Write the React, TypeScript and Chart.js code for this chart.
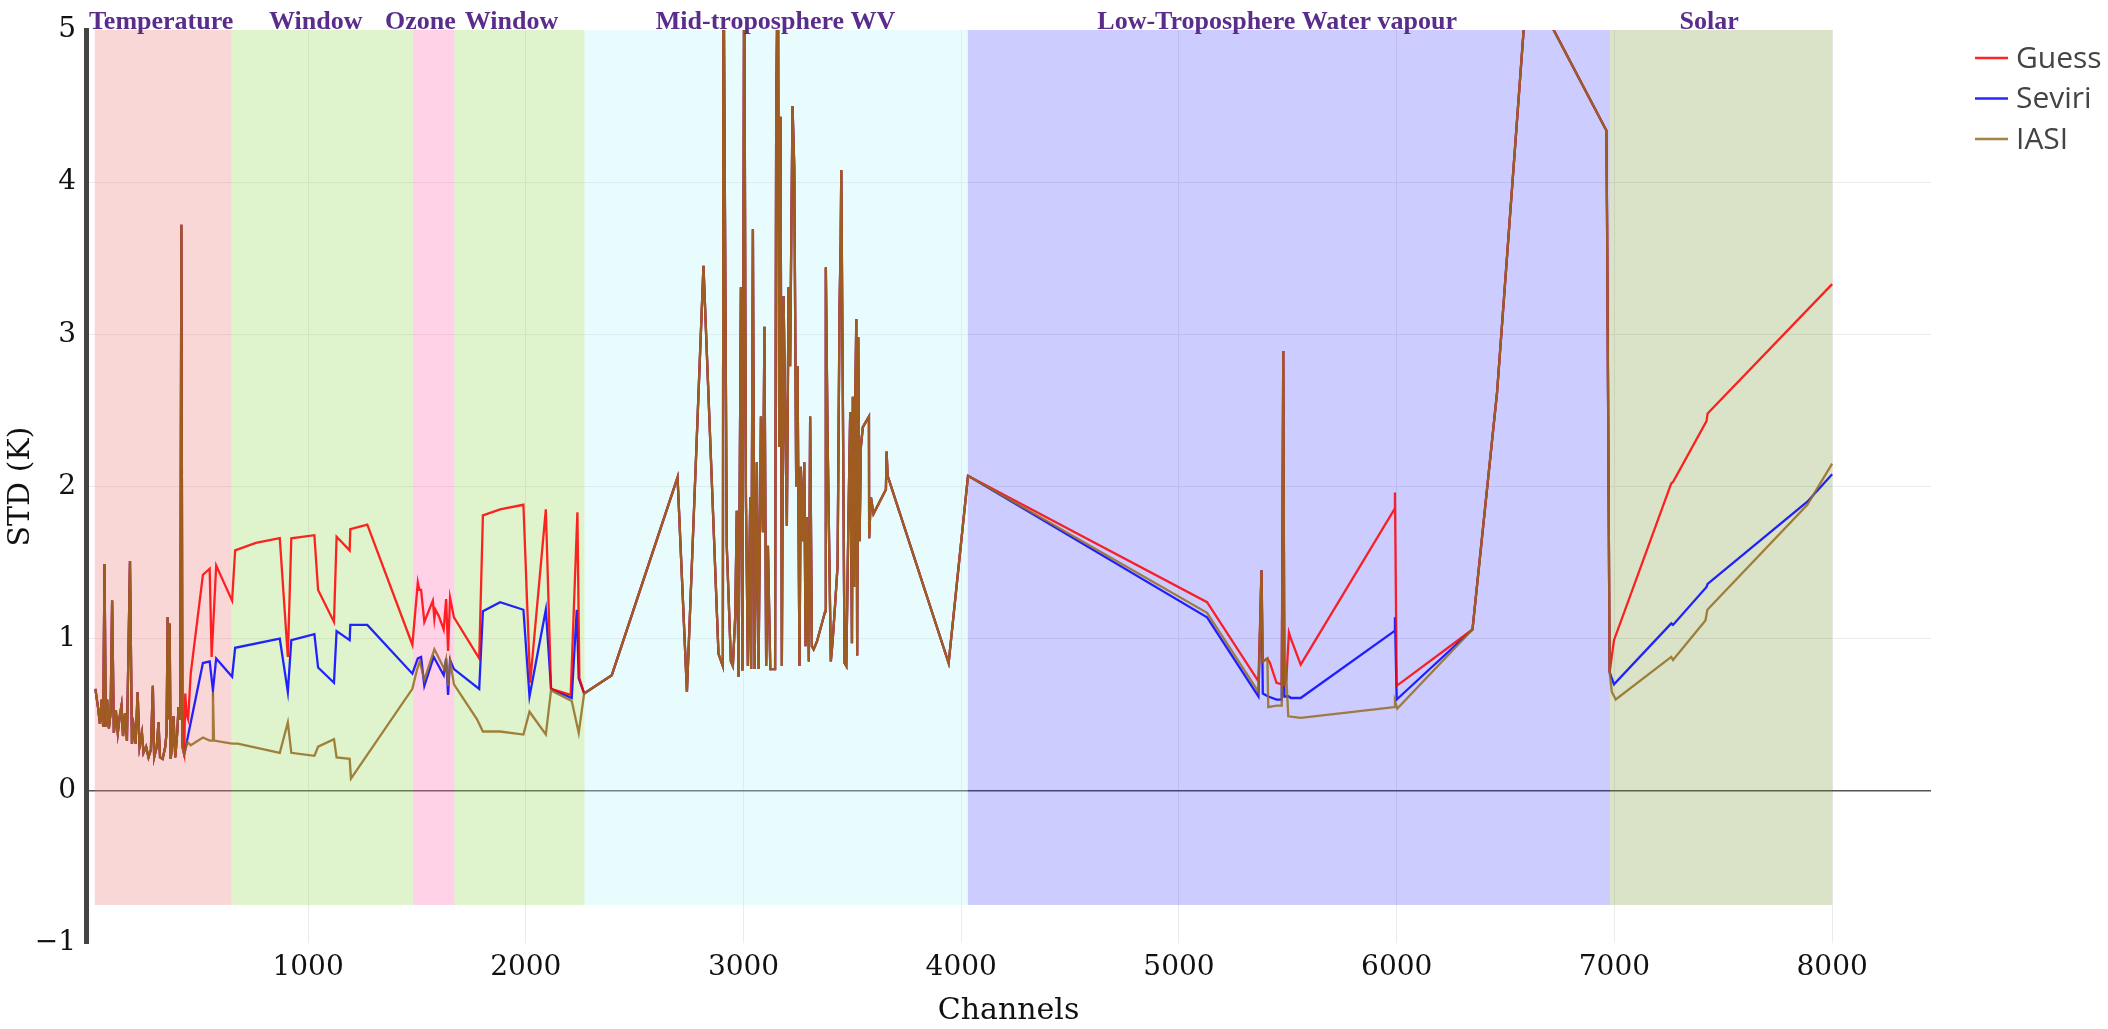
import React, { useEffect, useRef } from 'react';
import { Chart, registerables } from 'chart.js';

Chart.register(...registerables);

// ---------- Regions (shaded bands) ----------
const regionNames = ['Temperature', 'Window', 'Ozone', 'Window', 'Mid-troposphere WV', 'Low-Troposphere Water vapour', 'Solar'];
const regionStart = [20, 648, 1482, 1672, 2270, 4030, 6980];
const regionEnd = [648, 1482, 1672, 2270, 4030, 6980, 8000];
const regionLabelAt = [325, 1035, 1516, 1934, 3147, 5451, 7435];
const regionColors = [
  'rgba(238,122,122,0.3)',
  'rgba(148,215,88,0.3)',
  'rgba(255,105,180,0.3)',
  'rgba(148,215,88,0.3)',
  'rgba(178,245,252,0.3)',
  'rgba(0,0,255,0.2)',
  'rgba(107,142,35,0.25)',
];

// ---------- Axis ticks ----------
const xTicks = [1000, 2000, 3000, 4000, 5000, 6000, 7000, 8000];

// ---------- Series ----------
const seriesNames = ['Guess', 'Seviri', 'IASI'];
const seriesColors = ['rgba(255,0,0,0.85)', 'rgba(0,0,255,0.85)', 'rgba(148,108,32,0.85)'];

// common part (temperature channels)
const tempCh = [23, 35, 44, 52, 59, 65, 71, 77, 85, 93, 100, 108, 117, 126, 135, 143, 150, 159, 168, 182, 191, 199, 208, 217, 226, 237, 244, 256, 267, 278, 287, 293, 305, 313, 320, 332, 344, 350, 355, 360, 364, 369, 378, 382, 390, 399, 405, 413, 418, 423, 431];
const tempVal = [0.67, 0.55, 0.44, 0.60, 0.42, 1.49, 0.42, 0.60, 0.41, 0.51, 1.25, 0.38, 0.53, 0.38, 0.49, 0.56, 0.36, 0.51, 0.33, 1.51, 0.31, 0.42, 0.31, 0.65, 0.29, 0.38, 0.25, 0.29, 0.22, 0.27, 0.69, 0.22, 0.29, 0.45, 0.22, 0.21, 0.29, 0.38, 1.14, 0.47, 1.10, 0.21, 0.33, 0.49, 0.22, 0.38, 0.55, 0.47, 3.72, 0.29, 0.24];

// window / ozone channels
const guessWinCh = [436, 442, 449, 461, 517, 548, 557, 578, 651, 665, 760, 870, 907, 923, 1029, 1046, 1119, 1131, 1191, 1194, 1272, 1479, 1504, 1511, 1519, 1534, 1573, 1580, 1585, 1600, 1623, 1634, 1643, 1652, 1670, 1786, 1803, 1882, 1989, 2020, 2092, 2116, 2206, 2237, 2246];
const guessWinVal = [0.64, 0.50, 0.47, 0.77, 1.42, 1.46, 0.88, 1.48, 1.25, 1.58, 1.63, 1.66, 0.88, 1.66, 1.68, 1.32, 1.11, 1.67, 1.58, 1.72, 1.75, 0.96, 1.37, 1.32, 1.32, 1.11, 1.25, 1.13, 1.19, 1.15, 1.06, 1.26, 0.92, 1.27, 1.14, 0.87, 1.81, 1.85, 1.88, 0.71, 1.85, 0.67, 0.63, 1.83, 0.74];

const seviriWinCh = [440, 454, 517, 548, 563, 578, 651, 665, 870, 907, 923, 1029, 1046, 1119, 1131, 1191, 1194, 1272, 1479, 1504, 1519, 1534, 1577, 1623, 1634, 1643, 1652, 1670, 1786, 1803, 1882, 1989, 2017, 2092, 2116, 2211, 2234, 2243];
const seviriWinVal = [0.30, 0.40, 0.84, 0.85, 0.66, 0.87, 0.75, 0.94, 1.00, 0.65, 0.99, 1.03, 0.81, 0.71, 1.05, 0.99, 1.09, 1.09, 0.77, 0.87, 0.88, 0.69, 0.88, 0.76, 0.87, 0.63, 0.86, 0.80, 0.67, 1.18, 1.24, 1.19, 0.62, 1.19, 0.67, 0.61, 1.19, 0.74];

const iasiWinCh = [446, 461, 517, 548, 560, 563, 568, 651, 677, 870, 907, 923, 1029, 1046, 1119, 1131, 1191, 1197, 1479, 1501, 1513, 1534, 1580, 1626, 1634, 1643, 1653, 1670, 1776, 1803, 1882, 1989, 2017, 2092, 2116, 2211, 2243];
const iasiWinVal = [0.32, 0.30, 0.35, 0.33, 0.33, 0.65, 0.33, 0.31, 0.31, 0.25, 0.45, 0.25, 0.23, 0.29, 0.34, 0.22, 0.21, 0.08, 0.67, 0.80, 0.85, 0.73, 0.93, 0.80, 0.86, 0.69, 0.85, 0.70, 0.47, 0.39, 0.39, 0.37, 0.52, 0.37, 0.66, 0.59, 0.38];

// common part (mid-troposphere water vapour)
const midCh = [2268, 2395, 2697, 2740, 2816, 2885, 2905, 2908, 2923, 2942, 2951, 2962, 2969, 2977, 2988, 2995, 3003, 3011, 3020, 3031, 3035, 3043, 3051, 3061, 3069, 3080, 3089, 3096, 3104, 3112, 3123, 3133, 3145, 3150, 3158, 3164, 3170, 3176, 3184, 3191, 3199, 3207, 3214, 3225, 3233, 3242, 3248, 3257, 3263, 3271, 3279, 3285, 3291, 3300, 3306, 3314, 3322, 3337, 3375, 3378, 3386, 3401, 3409, 3420, 3432, 3441, 3446, 3449, 3456, 3464, 3472, 3482, 3490, 3498, 3502, 3508, 3513, 3518, 3522, 3527, 3533, 3539, 3548, 3564, 3576, 3577, 3585, 3597, 3654, 3657, 3662, 3942, 4031];
const midVal = [0.64, 0.76, 2.06, 0.65, 3.45, 0.90, 0.82, 5.6, 1.61, 0.85, 0.82, 1.15, 1.84, 0.75, 3.31, 0.79, 5.6, 1.93, 0.82, 1.93, 0.80, 3.69, 0.80, 2.16, 0.80, 2.46, 1.70, 3.05, 0.82, 1.61, 0.80, 0.80, 0.80, 4.49, 5.6, 2.26, 4.43, 0.82, 3.25, 2.52, 1.74, 3.31, 2.79, 4.50, 4.10, 2.00, 2.79, 0.82, 2.13, 1.64, 2.16, 0.95, 1.80, 0.85, 2.46, 0.95, 0.93, 0.98, 1.18, 3.44, 2.33, 0.85, 0.98, 1.21, 1.48, 3.18, 3.59, 4.08, 2.62, 0.84, 0.82, 1.80, 2.49, 0.97, 2.59, 1.34, 2.56, 3.10, 0.89, 2.98, 1.64, 2.26, 2.39, 2.43, 2.46, 1.66, 1.93, 1.82, 1.98, 2.23, 2.07, 0.84, 2.07];

// low-troposphere water vapour
const guessLowCh = [5129, 5365, 5379, 5385, 5406, 5418, 5448, 5472, 5479, 5484, 5493, 5505, 5514, 5559, 5989, 5992, 6000];
const guessLowVal = [1.24, 0.72, 1.45, 0.85, 0.87, 0.84, 0.71, 0.70, 2.89, 0.70, 0.73, 1.04, 1.00, 0.83, 1.85, 1.96, 0.69];
const seviriLowCh = [5129, 5365, 5379, 5385, 5410, 5448, 5472, 5479, 5484, 5505, 5514, 5559, 5989, 5992, 6000];
const seviriLowVal = [1.14, 0.62, 1.45, 0.64, 0.62, 0.60, 0.60, 2.89, 0.62, 0.62, 0.61, 0.61, 1.05, 1.14, 0.60];
const iasiLowCh = [5129, 5365, 5379, 5385, 5406, 5410, 5448, 5472, 5479, 5484, 5490, 5502, 5559, 5989, 5992, 6003];
const iasiLowVal = [1.17, 0.65, 1.45, 0.85, 0.87, 0.55, 0.56, 0.56, 2.89, 0.69, 0.84, 0.49, 0.48, 0.55, 0.59, 0.54];

// common tail
const tailCh = [6348, 6461, 6600, 6963, 6966, 6978];
const tailVal = [1.06, 2.62, 5.33, 4.34, 3.78, 0.78];

// solar
const guessSolarCh = [6998, 7261, 7269, 7423, 7428, 8000];
const guessSolarVal = [0.99, 2.02, 2.03, 2.43, 2.48, 3.33];
const seviriSolarCh = [6998, 7261, 7269, 7423, 7428, 7886, 8000];
const seviriSolarVal = [0.70, 1.10, 1.09, 1.34, 1.36, 1.90, 2.08];
const iasiSolarCh = [6988, 7006, 7261, 7269, 7418, 7427, 7886, 8000];
const iasiSolarVal = [0.65, 0.60, 0.88, 0.86, 1.12, 1.19, 1.88, 2.15];

const pts = (xs: number[], ys: number[]) => xs.map((x, i) => ({ x, y: ys[i] }));

const guessData = [
  ...pts(tempCh, tempVal), ...pts(guessWinCh, guessWinVal), ...pts(midCh, midVal),
  ...pts(guessLowCh, guessLowVal), ...pts(tailCh, tailVal), ...pts(guessSolarCh, guessSolarVal),
];
const seviriData = [
  ...pts(tempCh, tempVal), ...pts(seviriWinCh, seviriWinVal), ...pts(midCh, midVal),
  ...pts(seviriLowCh, seviriLowVal), ...pts(tailCh, tailVal), ...pts(seviriSolarCh, seviriSolarVal),
];
const iasiData = [
  ...pts(tempCh, tempVal), ...pts(iasiWinCh, iasiWinVal), ...pts(midCh, midVal),
  ...pts(iasiLowCh, iasiLowVal), ...pts(tailCh, tailVal), ...pts(iasiSolarCh, iasiSolarVal),
];

const W = 2108;
const H = 1029;

const bandsPlugin = {
  id: 'bands',
  beforeDatasetsDraw(chart: any) {
    const { ctx, chartArea, scales } = chart;
    const xs = scales.x;
    const ys = scales.y;
    ctx.save();
    const top = ys.getPixelForValue(5);
    const bottom = ys.getPixelForValue(-0.75);
    regionStart.forEach((s, i) => {
      const x0 = Math.max(xs.getPixelForValue(s), chartArea.left);
      const x1 = xs.getPixelForValue(regionEnd[i]);
      ctx.fillStyle = regionColors[i];
      ctx.fillRect(x0, top, x1 - x0, bottom - top);
    });
    ctx.restore();
  },
};

const labelsPlugin = {
  id: 'regionLabels',
  afterDraw(chart: any) {
    const { ctx, scales } = chart;
    ctx.save();
    ctx.font = 'bold 26px "Liberation Serif", "Times New Roman", serif';
    ctx.fillStyle = '#5a2d8c';
    ctx.textAlign = 'center';
    ctx.textBaseline = 'alphabetic';
    regionNames.forEach((name, i) => {
      ctx.fillText(name, scales.x.getPixelForValue(regionLabelAt[i]), 29);
    });
    ctx.restore();
  },
};

const legendPlugin = {
  id: 'customLegend',
  afterDraw(chart: any) {
    const { ctx } = chart;
    ctx.save();
    ctx.font = '30px "Open Sans", sans-serif';
    ctx.textBaseline = 'middle';
    ctx.textAlign = 'left';
    seriesNames.forEach((name, i) => {
      const y = 58 + i * 40.5;
      ctx.strokeStyle = seriesColors[i];
      ctx.lineWidth = 2.5;
      ctx.beginPath();
      ctx.moveTo(1975, y);
      ctx.lineTo(2008, y);
      ctx.stroke();
      ctx.fillStyle = '#444';
      ctx.fillText(name, 2016, y + 1);
    });
    ctx.restore();
  },
};

// draw order: Seviri at the bottom, Guess above it, IASI on top
const drawOrder = [2, 3, 1];

export default function App() {
  const ref = useRef<HTMLCanvasElement | null>(null);

  useEffect(() => {
    if (!ref.current) return;
    const datasets = [guessData, seviriData, iasiData].map((data, i) => ({
      label: seriesNames[i],
      data,
      borderColor: seriesColors[i],
      backgroundColor: seriesColors[i],
      borderWidth: 2.3,
      pointRadius: 0,
      tension: 0,
      fill: false,
      order: drawOrder[i],
    }));
    const chart = new Chart(ref.current, {
      type: 'line',
      data: { datasets },
      options: {
        animation: false,
        responsive: false,
        devicePixelRatio: 1,
        layout: { padding: { top: 30, right: 177, left: 0, bottom: 0 } },
        plugins: { legend: { display: false }, tooltip: { enabled: false } },
        scales: {
          x: {
            type: 'linear',
            min: -20,
            max: 8454,
            afterBuildTicks: (s: any) => {
              s.ticks = xTicks.map((v) => ({ value: v }));
            },
            afterFit: (s: any) => {
              s.height = 86;
            },
            grid: { color: '#ebebeb', lineWidth: 1, drawTicks: false },
            border: { display: false },
            ticks: {
              autoSkip: false,
              maxRotation: 0,
              padding: 8,
              color: '#111',
              font: { family: '"DejaVu Serif", serif', size: 28 },
              callback: (v: any) => String(v),
            },
            title: {
              display: true,
              text: 'Channels',
              color: '#111',
              font: { family: '"DejaVu Serif", serif', size: 30 },
              padding: { top: 0, bottom: 0 },
            },
          },
          y: {
            type: 'linear',
            min: -1,
            max: 5,
            afterFit: (s: any) => {
              s.width = 86;
            },
            grid: {
              drawTicks: false,
              color: (c: any) =>
                c.tick.value === 0 ? '#555' : c.tick.value === -1 || c.tick.value === 5 ? 'rgba(0,0,0,0)' : '#ebebeb',
              lineWidth: (c: any) => (c.tick.value === 0 ? 1.5 : 1),
            },
            border: { display: true, color: '#444', width: 5 },
            ticks: {
              stepSize: 1,
              padding: 10,
              color: '#111',
              font: { family: '"DejaVu Serif", serif', size: 28 },
              callback: (v: any) => (v < 0 ? '\u2212' + Math.abs(v) : String(v)),
            },
            title: {
              display: true,
              text: 'STD (K)',
              color: '#111',
              font: { family: '"DejaVu Serif", serif', size: 30 },
              padding: { top: 3, bottom: 0 },
            },
          },
        },
      },
      plugins: [bandsPlugin, labelsPlugin, legendPlugin],
    } as any);
    return () => chart.destroy();
  }, []);

  return (
    <div style={{ position: 'fixed', left: 0, top: 0, width: W, height: H, background: '#fff' }}>
      <canvas ref={ref} width={W} height={H} style={{ display: 'block', width: W, height: H }} />
    </div>
  );
}
